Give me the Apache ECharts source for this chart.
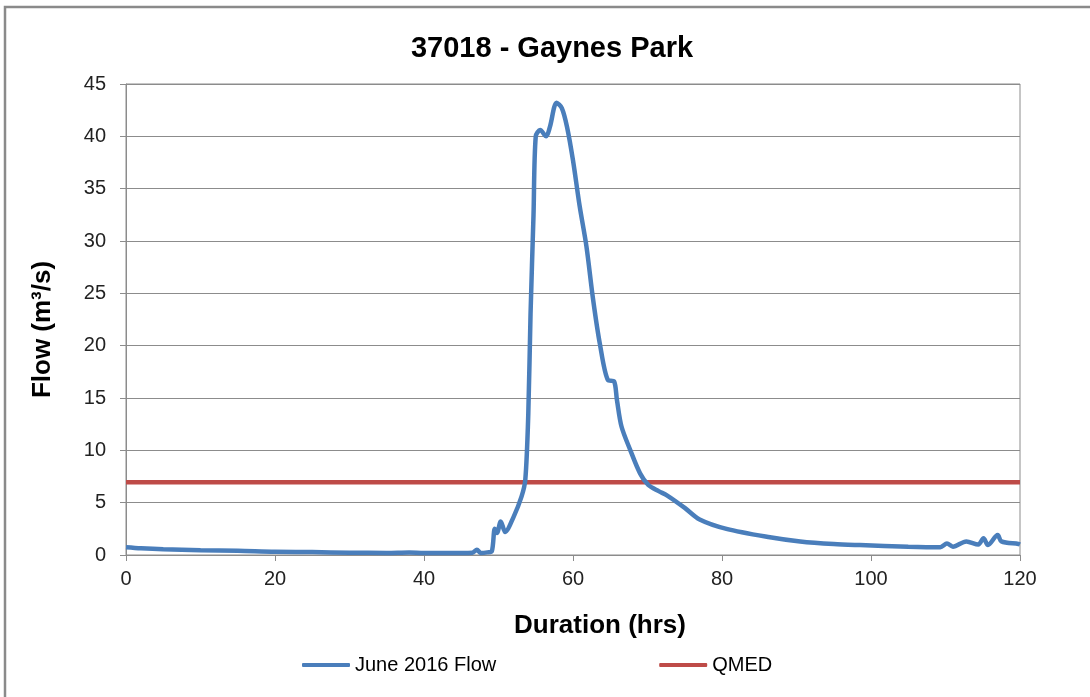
<!DOCTYPE html>
<html>
<head>
<meta charset="utf-8">
<script src="https://cdn.jsdelivr.net/npm/echarts@6/dist/echarts.min.js"></script>
<style>
  html, body { margin: 0; padding: 0; background: #fff; }
  #chart { width: 1090px; height: 697px; }
</style>
</head>
<body>
<div id="chart"></div>
<script>
// Hydrograph for gauge 37018 (Gaynes Park), June 2016 event
const hours = [
  0, 2, 5, 10, 15, 20, 25, 30, 35, 38, 40, 45, 46.5, 47.1, 47.6, 48.5, 49.1,
  49.5, 49.8, 50.3, 50.9, 52.0, 53.1, 53.6, 54.0, 54.3, 54.7, 55.0, 55.6, 56.4,
  56.9, 57.8, 58.5, 59.2, 60.0, 60.9, 61.8, 62.7, 63.6, 64.7, 65.5, 65.9, 66.5,
  67.7, 69.0, 70.1, 71.5, 72.6, 75, 77, 80.6, 86, 90.5, 95, 98.5, 105, 109.3,
  110.2, 111, 112.8, 114.4, 115.1, 115.7, 117.0, 117.5, 119.8, 120
];
const flow = [
  0.75, 0.65, 0.55, 0.45, 0.4, 0.3, 0.28, 0.22, 0.2, 0.25, 0.2, 0.2, 0.22, 0.5, 0.2, 0.25, 0.35,
  2.5, 2.1, 3.2, 2.2, 3.6, 5.6, 7.2, 13.5, 23, 32.5, 40.0, 40.6, 40.0,
  40.9, 43.2, 42.7, 40.9, 37.7, 33.3, 29.5, 24.4, 20.2, 16.7, 16.6, 14.8, 12.3,
  10.0, 7.8, 6.7, 6.1, 5.7, 4.5, 3.4, 2.5, 1.75, 1.3, 1.05, 0.95, 0.8, 0.75,
  1.1, 0.8, 1.3, 1.0, 1.6, 0.95, 1.9, 1.3, 1.05, 1.0
];
const qmedHours = [0, 120];
const qmedValue = 6.95;
const xTicks = [0, 20, 40, 60, 80, 100, 120];
const yTicks = [0, 5, 10, 15, 20, 25, 30, 35, 40, 45];

const flowData = hours.map((h, i) => [h, flow[i]]);
const qmedData = qmedHours.map(h => [h, qmedValue]);

const font = 'Liberation Sans, Arial, sans-serif';
const gridGray = '#8c8c8c';

const chart = echarts.init(document.getElementById('chart'), null, { renderer: 'canvas' });
chart.setOption({
  backgroundColor: '#ffffff',
  animation: false,
  title: {
    text: '37018 - Gaynes Park',
    left: 547,
    top: 29,
    textAlign: 'center',
    textStyle: { fontFamily: font, fontSize: 29, fontWeight: 'bold', color: '#000' }
  },
  legend: {
    left: 302,
    top: 655,
    padding: 0,
    itemGap: 163,
    itemWidth: 48,
    itemHeight: 4,
    icon: 'roundRect',
    textStyle: { fontFamily: font, fontSize: 20, color: '#000' },
    data: ['June 2016 Flow', 'QMED']
  },
  grid: {
    left: 126, right: 70, top: 84, bottom: 142,
    show: true, borderColor: gridGray, borderWidth: 1, containLabel: false
  },
  xAxis: {
    type: 'value',
    min: xTicks[0], max: xTicks[xTicks.length - 1], interval: 20,
    name: 'Duration (hrs)',
    nameLocation: 'middle',
    nameGap: 58,
    nameTextStyle: { fontFamily: font, fontSize: 26, fontWeight: 'bold', color: '#000', padding: [0, 0, 0, 54] },
    axisLine: { show: true, lineStyle: { color: gridGray, width: 1 } },
    axisTick: { show: true, length: 6, inside: false, lineStyle: { color: gridGray } },
    axisLabel: { fontFamily: font, fontSize: 20, color: '#222', margin: 14 },
    splitLine: { show: false }
  },
  yAxis: {
    type: 'value',
    min: yTicks[0], max: yTicks[yTicks.length - 1], interval: 5,
    name: 'Flow (m³/s)',
    nameLocation: 'middle',
    nameGap: 70,
    nameTextStyle: { fontFamily: font, fontSize: 26, fontWeight: 'bold', color: '#000', padding: [0, 20, 0, 0] },
    axisLine: { show: true, lineStyle: { color: gridGray, width: 1 } },
    axisTick: { show: true, length: 6, inside: false, lineStyle: { color: gridGray } },
    axisLabel: { fontFamily: font, fontSize: 20, color: '#222', margin: 20 },
    splitLine: { show: true, lineStyle: { color: gridGray, width: 1 } }
  },
  series: [
    {
      name: 'June 2016 Flow',
      type: 'line',
      data: flowData,
      smooth: 0.3,
      showSymbol: false,
      symbol: 'none',
      color: '#4a7ebb',
      lineStyle: { color: '#4a7ebb', width: 4.5 },
      z: 3
    },
    {
      name: 'QMED',
      type: 'line',
      data: qmedData,
      showSymbol: false,
      symbol: 'none',
      color: '#be4b48',
      lineStyle: { color: '#be4b48', width: 4.5 },
      z: 2
    }
  ],
  graphic: [
    {
      type: 'rect',
      shape: { x: 5, y: 7, width: 1200, height: 800 },
      style: { fill: 'none', stroke: '#8a8a8a', lineWidth: 2.5 },
      silent: true
    }
  ]
});
</script>
</body>
</html>
